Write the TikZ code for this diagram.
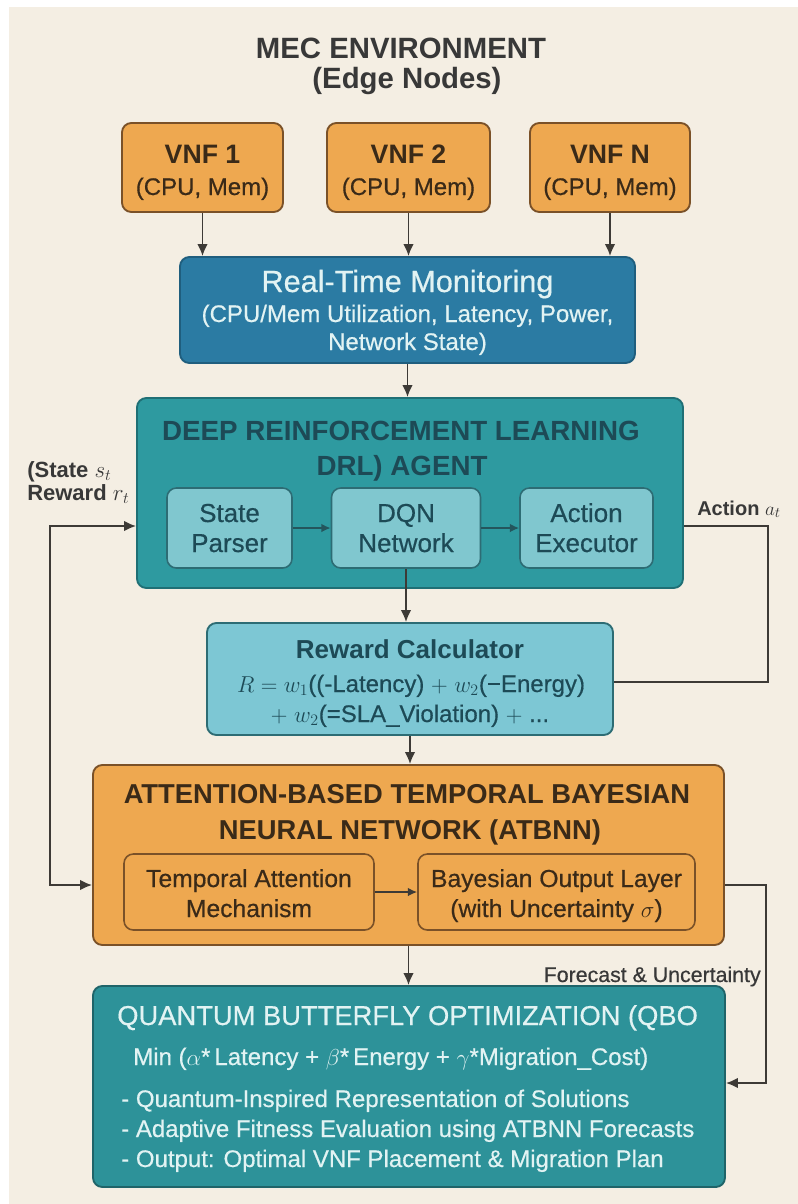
\documentclass[tikz,border=0pt]{standalone}
\usepackage{fontspec}
\setmainfont{Liberation Sans}
\newfontfamily\medfont[FakeBold=0.5]{Liberation Sans}
\usetikzlibrary{arrows.meta}
\definecolor{bgc}{HTML}{F4EEE3}
\definecolor{ofill}{HTML}{EEA850}
\definecolor{odraw}{HTML}{7A5128}
\definecolor{otext}{HTML}{3A2A18}
\definecolor{rfill}{HTML}{2B7BA3}
\definecolor{rdraw}{HTML}{1F5E7E}
\definecolor{ltext}{HTML}{E2F3F3}
\definecolor{dfill}{HTML}{2E9AA0}
\definecolor{ddraw}{HTML}{1F6F75}
\definecolor{dtext}{HTML}{1D4A56}
\definecolor{sfill}{HTML}{80C7CF}
\definecolor{sdraw}{HTML}{2D6C74}
\definecolor{cfill}{HTML}{7DC7D4}
\definecolor{qfill}{HTML}{2D9299}
\definecolor{qdraw}{HTML}{1F6469}
\definecolor{lcol}{HTML}{3D3A36}
\definecolor{ttext}{HTML}{383838}
\begin{document}
\begin{tikzpicture}[x=0.75pt,y=-0.75pt,
  box/.style={draw, rounded corners=7pt, line width=1.4pt, inner sep=0pt},
  obox/.style={box, fill=ofill, draw=odraw},
  txt/.style={inner sep=0pt, anchor=base},
  txtw/.style={inner sep=0pt, anchor=base west},
  conn/.style={draw=lcol, line width=1.4pt},
  arr/.style={conn, -{Latex[length=9pt,width=8pt]}},
  sarr/.style={draw=#1, line width=1.3pt, -{Latex[length=7pt,width=6.5pt]}},
  fT/.style={font=\bfseries\fontsize{22}{26}\selectfont},
]
\fill[white] (0,0) rectangle (798,1204);
\fill[bgc] (9,7) rectangle (798,1204);
\useasboundingbox (0,0) rectangle (798,1204);

% Title
\node[txt, fT, text=ttext] (t1) at (401,58) {MEC ENVIRONMENT};
\node[txt, fT, text=ttext] (t2) at (407,88) {(Edge Nodes)};

% VNF boxes
\node[obox, minimum width=161*0.75pt, minimum height=89*0.75pt] (vnf1) at (202.5,167.5) {};
\node[obox, minimum width=163*0.75pt, minimum height=89*0.75pt] (vnf2) at (408.5,167.5) {};
\node[obox, minimum width=160*0.75pt, minimum height=89*0.75pt] (vnfn) at (610,167.5) {};
\foreach \n/\x/\l in {vnf1/202.5/VNF 1, vnf2/408.5/VNF 2, vnfn/610/VNF N}{
  \node[txt, text=otext, font=\bfseries\fontsize{20}{24}\selectfont] (\n a) at (\x,163) {\l};
  \node[txt, text=otext, font=\medfont\fontsize{18}{22}\selectfont] (\n b) at (\x,195) {(CPU, Mem)};
}

% Real-time monitoring
\node[box, fill=rfill, draw=rdraw, minimum width=455*0.75pt, minimum height=106*0.75pt] (rtm) at (407.5,310) {};
\node[txt, text=ltext, font=\medfont\fontsize{23}{27}\selectfont] (rtm1) at (407.5,292) {Real-Time Monitoring};
\node[txt, text=ltext, font=\medfont\fontsize{18}{22}\selectfont] (rtm2) at (407.5,322) {(CPU/Mem Utilization, Latency, Power,};
\node[txt, text=ltext, font=\medfont\fontsize{18}{22}\selectfont] (rtm3) at (407.5,350) {Network State)};

\draw[arr] (vnf1.south) -- (vnf1.south |- rtm.north);
\draw[arr] (vnf2.south) -- (vnf2.south |- rtm.north);
\draw[arr] (vnfn.south) -- (vnfn.south |- rtm.north);

% DRL agent
\node[box, fill=dfill, draw=ddraw, minimum width=546*0.75pt, minimum height=190*0.75pt] (drl) at (410,493) {};
\node[txt, text=dtext, font=\bfseries\fontsize{20.8}{24}\selectfont] (drl1) at (401,440) {DEEP REINFORCEMENT LEARNING};
\node[txt, text=dtext, font=\bfseries\fontsize{20.8}{24}\selectfont] (drl2) at (402,475) {DRL) AGENT};
\node[box, fill=sfill, draw=sdraw, line width=1.2pt, minimum width=125*0.75pt, minimum height=80*0.75pt] (sp) at (229.5,528) {};
\node[box, fill=sfill, draw=sdraw, line width=1.2pt, minimum width=149*0.75pt, minimum height=80*0.75pt] (dqn) at (406,528) {};
\node[box, fill=sfill, draw=sdraw, line width=1.2pt, minimum width=133*0.75pt, minimum height=80*0.75pt] (ae) at (586.5,528) {};
\foreach \n/\x/\a/\b in {sp/229.5/State/Parser, dqn/406/DQN/Network, ae/586.5/Action/Executor}{
  \node[txt, text=dtext, font=\medfont\fontsize{19.5}{23}\selectfont] (\n a) at (\x,522) {\a};
  \node[txt, text=dtext, font=\medfont\fontsize{19.5}{23}\selectfont] (\n b) at (\x,552) {\b};
}
\draw[sarr=sdraw!80!black] (sp.east) -- (dqn.west);
\draw[sarr=sdraw!80!black] (dqn.east) -- (ae.west);
\draw[arr] (rtm.south) -- (rtm.south |- drl.north);

% side labels
\node[txtw, text=ttext, font=\bfseries\fontsize{16.5}{20}\selectfont] (lab1) at (27,477) {(State $s_t$};
\node[txtw, text=ttext, font=\bfseries\fontsize{16.5}{20}\selectfont] (lab2) at (27,500) {Reward $r_t$};
\node[txtw, text=ttext, font=\bfseries\fontsize{15}{18}\selectfont] (lab3) at (697,515) {Action $a_t$};

% Reward calculator
\node[box, fill=cfill, draw=sdraw, minimum width=406*0.75pt, minimum height=112*0.75pt] (rew) at (410,679) {};
\node[txt, text=dtext, font=\bfseries\fontsize{19.5}{23}\selectfont] (rew1) at (410,658) {Reward Calculator};
\node[txt, text=dtext, font=\medfont\fontsize{18}{22}\selectfont] (rew2) at (411,692) {$R = w_1$((-Latency) $+$ $w_2$(−Energy)};
\node[txt, text=dtext, font=\medfont\fontsize{18}{22}\selectfont] (rew3) at (410,722) {$+$ $w_2$(=SLA\_Violation) $+$ ...};
\draw[arr] (dqn.south) -- (dqn.south |- rew.north);

% ATBNN
\node[obox, minimum width=631*0.75pt, minimum height=180*0.75pt] (atb) at (408.5,855) {};
\node[txt, text=otext, font=\bfseries\fontsize{20.5}{24}\selectfont] (atb1) at (407,803) {ATTENTION-BASED TEMPORAL BAYESIAN};
\node[txt, text=otext, font=\bfseries\fontsize{20.5}{24}\selectfont] (atb2) at (410,839) {NEURAL NETWORK (ATBNN)};
\node[obox, line width=1.2pt, minimum width=250*0.75pt, minimum height=76*0.75pt] (tam) at (249,892) {};
\node[obox, line width=1.2pt, minimum width=277*0.75pt, minimum height=76*0.75pt] (bol) at (556.5,892) {};
\node[txt, text=otext, font=\medfont\fontsize{18.5}{22}\selectfont] (tam1) at (249,887) {Temporal Attention};
\node[txt, text=otext, font=\medfont\fontsize{18.5}{22}\selectfont] (tam2) at (249,917) {Mechanism};
\node[txt, text=otext, font=\medfont\fontsize{18.5}{22}\selectfont] (bol1) at (556.5,887) {Bayesian Output Layer};
\node[txt, text=otext, font=\medfont\fontsize{18.5}{22}\selectfont] (bol2) at (556.5,917) {(with Uncertainty $\sigma$)};
\draw[sarr=lcol] (tam.east) -- (bol.west);
\draw[arr] (rew.south) -- (rew.south |- atb.north);

% QBO
\node[box, fill=qfill, draw=qdraw, minimum width=632*0.75pt, minimum height=201*0.75pt] (qbo) at (409,1086.5) {};
\node[txtw, text=ltext, font=\medfont\fontsize{20.5}{24}\selectfont] (q1) at (117,1025) {QUANTUM BUTTERFLY OPTIMIZATION (QBO};
\node[txtw, text=ltext, font=\medfont\fontsize{18}{22}\selectfont] (q2) at (133,1065) {Min ($\alpha$*\,Latency + $\beta$*\,Energy + $\gamma$*Migration\_Cost)};
\node[txtw, text=ltext, font=\medfont\fontsize{18}{22}\selectfont] (q3) at (121,1107) {- Quantum-Inspired Representation of Solutions};
\node[txtw, text=ltext, font=\medfont\fontsize{18}{22}\selectfont] (q4) at (121,1137) {- Adaptive Fitness Evaluation using ATBNN Forecasts};
\node[txtw, text=ltext, font=\medfont\fontsize{18}{22}\selectfont] (q5) at (121,1167) {- Output: Optimal VNF Placement \& Migration Plan};
\draw[arr] (atb.south) -- (atb.south |- qbo.north);
\node[inner sep=0pt, anchor=base east, text=ttext, font=\medfont\fontsize{16}{19}\selectfont] (fcl) at (761,982) {Forecast \& Uncertainty};

% feedback loops
\coordinate (fbA) at (50,526);
\coordinate (fbB) at (50,885);
\draw[conn, {Latex[length=9pt,width=8pt]}-{Latex[length=9pt,width=8pt]}] (drl.west |- fbA) -- (fbA) -- (fbB) -- (atb.west |- fbB);
\coordinate (acA) at (768,526);
\coordinate (acB) at (768,682);
\draw[conn] (drl.east |- acA) -- (acA) -- (acB) -- (rew.east |- acB);
\coordinate (fcA) at (766,885);
\coordinate (fcB) at (766,1083);
\draw[arr] (atb.east |- fcA) -- (fcA) -- (fcB) -- (qbo.east |- fcB);
\end{tikzpicture}
\end{document}
